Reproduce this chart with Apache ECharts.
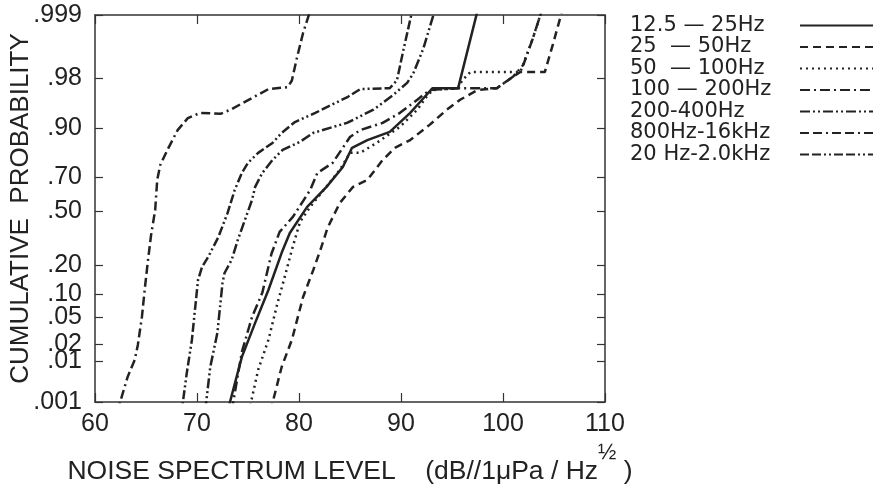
<!DOCTYPE html>
<html><head><meta charset="utf-8">
<script src="https://cdn.jsdelivr.net/npm/echarts@6/dist/echarts.min.js"></script>
<style>html,body{margin:0;padding:0;background:#fff}#c{width:882px;height:492px}</style>
</head><body><div id="c"></div>
<script>
// ---- data (noise spectrum level in dB, cumulative probability) ----
const seriesNames = ['12.5 — 25Hz', '25  — 50Hz', '50  — 100Hz', '100 — 200Hz', '200-400Hz', '800Hz-16kHz', '20 Hz-2.0kHz'];

const lvl_12_25 = [73.0, 74.4, 75.7, 77.0, 78.3, 79.1, 80.8, 82.7, 84.3, 85.2, 86.7, 88.9, 90.9, 92.2, 93.1, 95.6, 97.5];
const prb_12_25 = [.001, .0121, .042, .111, .259, .367, .525, .645, .751, .835, .863, .889, .935, .959, .971, .971, .999];

const lvl_25_50 = [77.2, 78.3, 79.3, 80.4, 81.4, 82.1, 82.8, 84.0, 85.3, 86.7, 88.2, 89.4, 90.9, 92.8, 94.5, 95.8, 97.5, 99.4, 101.0, 101.7, 104.1, 104.9, 105.8];
const prb_25_50 = [.001, .008, .0232, .092, .181, .274, .397, .549, .645, .684, .784, .835, .863, .908, .941, .957, .969, .971, .981, .984, .984, .995, .999];

const lvl_50_100 = [75.1, 76.0, 77.0, 77.9, 78.6, 79.3, 80.1, 81.1, 84.0, 85.0, 86.0, 87.6, 89.9, 91.6, 92.5, 93.1, 95.6, 96.0, 96.8, 101.7, 102.9, 103.8];
const prb_50_100 = [.001, .0071, .0232, .078, .154, .274, .433, .525, .737, .815, .815, .853, .903, .941, .961, .969, .971, .978, .984, .984, .996, .999];

const lvl_100_200 = [73.4, 74.4, 75.4, 76.4, 77.3, 78.1, 79.4, 81.1, 81.8, 83.3, 85.0, 86.0, 88.2, 89.9, 91.6, 92.8, 95.6, 99.4, 101.0, 102.0, 102.9, 103.8];
const prb_100_200 = [.001, .0148, .051, .103, .254, .373, .463, .627, .721, .771, .873, .894, .913, .935, .957, .969, .971, .971, .981, .988, .996, .999];

const lvl_200_400 = [70.8, 71.3, 72.0, 72.3, 72.5, 72.7, 73.4, 74.0, 74.7, 75.4, 75.7, 76.4, 77.4, 78.4, 80.1, 81.4, 84.7, 87.3, 89.2, 90.6, 91.2, 92.2, 93.3];
const prb_200_400 = [.001, .008, .030, .078, .133, .169, .225, .327, .445, .568, .645, .721, .784, .827, .857, .886, .913, .941, .963, .976, .983, .994, .999];

const lvl_800_16k = [62.2, 63.2, 63.9, 64.2, 64.6, 64.9, 65.2, 65.5, 65.9, 66.1, 66.4, 67.1, 68.1, 69.1, 70.3, 72.3, 73.4, 74.7, 77.0, 78.9, 79.3, 79.8, 80.4, 81.1];
const prb_800_16k = [.001, .0052, .0108, .0193, .0509, .120, .225, .356, .506, .684, .761, .827, .894, .924, .935, .933, .942, .954, .970, .972, .978, .991, .997, .999];

const lvl_20_2k = [68.5, 69.0, 69.5, 69.8, 70.1, 70.5, 71.1, 72.1, 73.0, 73.7, 74.4, 75.0, 76.0, 77.4, 78.3, 79.6, 81.6, 84.8, 86.0, 88.9, 89.6, 90.2, 91.1];
const prb_20_2k = [.001, .0062, .0232, .0633, .1435, .194, .239, .344, .488, .627, .721, .771, .815, .853, .886, .915, .935, .961, .970, .971, .978, .993, .999];

const tickProbs = [0.001, 0.01, 0.02, 0.05, 0.10, 0.20, 0.50, 0.70, 0.90, 0.98, 0.999];
const tickLabels = ['.001', '.01', '.02', '.05', '.10', '.20', '.50', '.70', '.90', '.98', '.999'];

// ---- probability scale (normal probit) ----
function probit(p) {
  const a=[-3.969683028665376e+01,2.209460984245205e+02,-2.759285104469687e+02,1.383577518672690e+02,-3.066479806614716e+01,2.506628277459239e+00];
  const b=[-5.447609879822406e+01,1.615858368580409e+02,-1.556989798598866e+02,6.680131188771972e+01,-1.328068155288572e+01];
  const c=[-7.784894002430293e-03,-3.223964580411365e-01,-2.400758277161838e+00,-2.549732539343734e+00,4.374664141464968e+00,2.938163982698783e+00];
  const d=[7.784695709041462e-03,3.224671290700398e-01,2.445134137142996e+00,3.754408661907416e+00];
  const pl = 0.02425, ph = 1 - pl; let q, r;
  if (p < pl) { q = Math.sqrt(-2*Math.log(p)); return (((((c[0]*q+c[1])*q+c[2])*q+c[3])*q+c[4])*q+c[5])/((((d[0]*q+d[1])*q+d[2])*q+d[3])*q+1); }
  if (p > ph) { q = Math.sqrt(-2*Math.log(1-p)); return -(((((c[0]*q+c[1])*q+c[2])*q+c[3])*q+c[4])*q+c[5])/((((d[0]*q+d[1])*q+d[2])*q+d[3])*q+1); }
  q = p - 0.5; r = q*q;
  return (((((a[0]*r+a[1])*r+a[2])*r+a[3])*r+a[4])*r+a[5])*q/(((((b[0]*r+b[1])*r+b[2])*r+b[3])*r+b[4])*r+1);
}
const Y_MIN = -2.95, Y_MAX = 3.025;
const clampZ = z => Math.max(Y_MIN, Math.min(Y_MAX, z));
const tickZ = tickProbs.map(p => clampZ(probit(p)));
function labelFor(v) {
  let best = 0;
  tickZ.forEach((z, i) => { if (Math.abs(z - v) < Math.abs(tickZ[best] - v)) best = i; });
  return tickLabels[best];
}
const pairs = (lv, pr) => lv.map((x, i) => [x, probit(pr[i])]);

const FONT = "'Liberation Sans', Arial, Helvetica, sans-serif";
const INK = '#222';
const styles = [
  'solid',
  [8, 5],
  [2, 4],
  [10, 4, 2, 4],
  [10, 3, 2, 3, 2, 3],
  [9, 4, 9, 4, 2, 4],
  [9, 3, 9, 3, 2, 3, 2, 3]
];
const dataSets = [
  pairs(lvl_12_25, prb_12_25),
  pairs(lvl_25_50, prb_25_50),
  pairs(lvl_50_100, prb_50_100),
  pairs(lvl_100_200, prb_100_200),
  pairs(lvl_200_400, prb_200_400),
  pairs(lvl_800_16k, prb_800_16k),
  pairs(lvl_20_2k, prb_20_2k)
];

const chart = echarts.init(document.getElementById('c'), null, {renderer: 'canvas'});
const axisLine = {show: true, onZero: false, lineStyle: {color: '#333', width: 1.5}};
chart.setOption({
  animation: false,
  backgroundColor: '#fff',
  textStyle: {fontFamily: FONT},
  grid: {left: 95, right: 277, top: 15, bottom: 90, containLabel: false, outerBoundsMode: 'none'},
  legend: {
    orient: 'vertical', left: 625, top: 10, align: 'right',
    itemWidth: 73, itemHeight: 14, itemGap: 0.5,
    data: seriesNames,
    itemStyle: {opacity: 0},
    lineStyle: {width: 2},
    formatter: n => '{t|' + n + '}',
    textStyle: {
      color: INK,
      rich: {t: {width: 165, align: 'left', fontSize: 21, lineHeight: 22, fontFamily: "'DejaVu Sans', sans-serif", color: INK}}
    }
  },
  xAxis: [{
    type: 'value', position: 'bottom', min: 60, max: 110, interval: 10,
    axisLine: axisLine,
    axisTick: {inside: true, length: 9, lineStyle: {color: '#333', width: 1.2}},
    axisLabel: {fontSize: 25, color: INK, margin: 10, fontFamily: FONT},
    splitLine: {show: false},
    name: 'NOISE SPECTRUM LEVEL    (dB//1μPa / Hz{sup|½} )',
    nameLocation: 'middle', nameGap: 40, nameMoveOverlap: false,
    nameTextStyle: {fontSize: 26.5, color: INK, fontFamily: FONT, lineHeight: 60,
      rich: {sup: {fontSize: 22, lineHeight: 20, verticalAlign: 'top', color: INK, fontFamily: FONT}}}
  }, {
    type: 'value', position: 'top', min: 60, max: 110, interval: 10,
    axisLine: axisLine,
    axisTick: {inside: true, length: 9, lineStyle: {color: '#333', width: 1.2}},
    axisLabel: {show: false}, splitLine: {show: false}
  }],
  yAxis: [{
    type: 'value', position: 'left', min: Y_MIN, max: Y_MAX,
    axisLine: axisLine,
    axisTick: {inside: true, length: 8, customValues: tickZ, lineStyle: {color: '#333', width: 1.2}},
    axisLabel: {customValues: tickZ, formatter: v => labelFor(v), fontSize: 25, color: INK, margin: 13, fontFamily: FONT},
    splitLine: {show: false},
    name: 'CUMULATIVE  PROBABILITY', nameLocation: 'middle', nameRotate: 90, nameGap: 61, nameMoveOverlap: false,
    nameTextStyle: {fontSize: 26, color: INK, fontFamily: FONT}
  }, {
    type: 'value', position: 'right', min: Y_MIN, max: Y_MAX,
    axisLine: axisLine,
    axisTick: {inside: true, length: 8, customValues: tickZ, lineStyle: {color: '#333', width: 1.2}},
    axisLabel: {show: false}, splitLine: {show: false}
  }],
  series: seriesNames.map((name, i) => ({
    name: name, type: 'line', xAxisIndex: 0, yAxisIndex: 0,
    data: dataSets[i], symbol: 'none', showSymbol: false, clip: true,
    lineStyle: {color: INK, width: 2.5, type: styles[i]},
    itemStyle: {color: INK}
  }))
});
</script></body></html>
